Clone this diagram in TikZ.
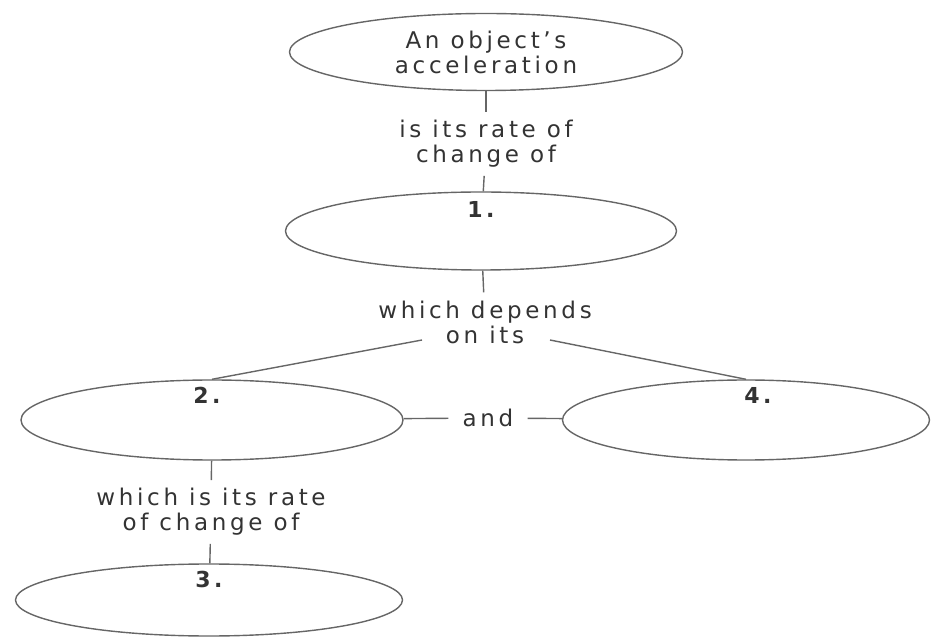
\documentclass[tikz,border=0pt]{standalone}
\usepackage{fontspec}
\setmainfont{DejaVu Sans}[LetterSpace=16]
\usetikzlibrary{shapes.geometric}
\tikzset{
  every node/.style={font=\fontsize{23}{25}\selectfont, text=black!80},
  concept/.style={ellipse, draw=black!60, line width=1.4pt, minimum height=80pt, inner sep=0pt},
  link/.style={align=center, inner sep=8pt},
  num/.style={anchor=north, inner sep=0pt, font=\fontsize{22}{25}\selectfont\bfseries},
  wire/.style={draw=black!60, line width=1.4pt}
}
\begin{document}
\begin{tikzpicture}[x=1pt,y=1pt]
      \useasboundingbox (0,0) rectangle (931,640);
      \path
        (486,588) node[concept, minimum width=393pt, minimum height=77pt, align=center] (acc){An object's\\acceleration}
        (486,496) node[link] (rate1){is its rate of\\change of}
        (481,409) node[concept, minimum width=391pt, minimum height=78pt, label={[num,yshift=-10pt]north:1.}] (vel){}
        (485,318) node[link] (dep){which depends\\on its}
        (212,220) node[concept, minimum width=382pt, label={[num,yshift=-8pt,xshift=-5pt]north:2.}] (posn){}
        (488,222) node[inner xsep=14pt] (and){and}
        (746,220) node[concept, minimum width=367pt, label={[num,yshift=-8pt,xshift=12pt]north:4.}] (mass){}
        (211,128) node[link] (rate2){which is its rate\\of change of}
        (209,40) node[concept, minimum width=387pt, minimum height=72pt, label={[num,yshift=-8pt]north:3.}] (time){};
      \coordinate (depL) at ([shift={(-63,-18)}]dep.center);
      \coordinate (depR) at ([shift={(65,-18)}]dep.center);
      \begin{scope}[wire]
        \draw (acc) to (rate1);
        \draw (rate1) to (vel);
        \draw (vel) to (dep);
        \draw (depL) to (posn.north);
        \draw (depR) to (mass.north);
        \draw (posn) to (and);
        \draw (and) to (mass);
        \draw (posn) to (rate2);
        \draw (rate2) to (time);
      \end{scope}
    \end{tikzpicture}
\end{document}
